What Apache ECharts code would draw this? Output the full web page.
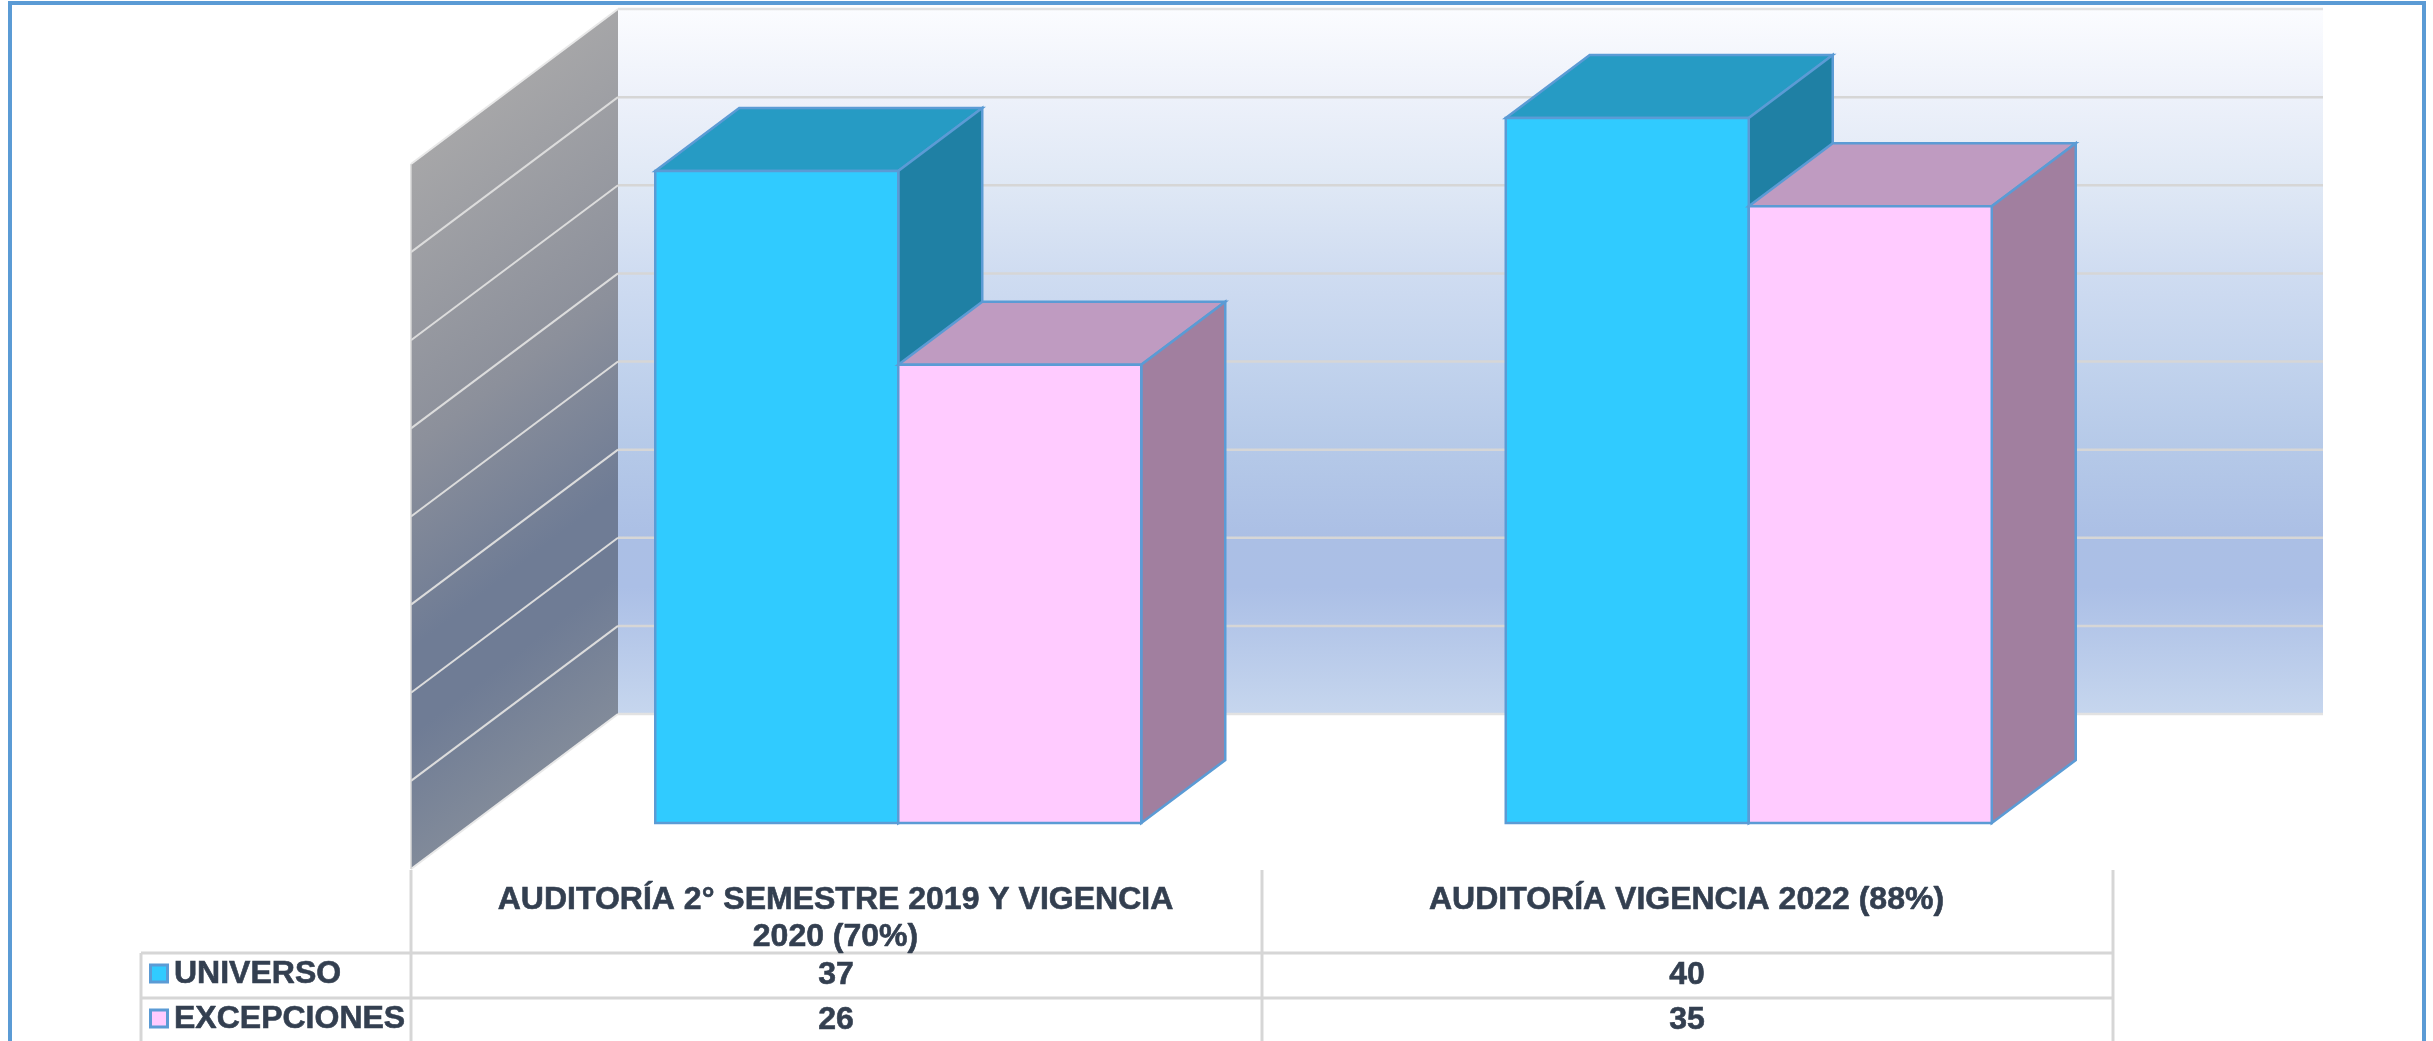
<!DOCTYPE html>
<html>
<head>
<meta charset="utf-8">
<style>html,body{margin:0;padding:0;background:#fff}#c{width:2433px;height:1041px}</style>
<script src="https://cdn.jsdelivr.net/npm/echarts@6/dist/echarts.min.js"></script>
</head>
<body>
<div id="c"></div>
<script>
const categories = ['AUDITORÍA 2° SEMESTRE 2019 Y VIGENCIA\n2020 (70%)', 'AUDITORÍA VIGENCIA 2022 (88%)'];
const universo = [37, 40];
const excepciones = [26, 35];
const gridTicks = [0, 5, 10, 15, 20, 25, 30, 35, 40];

const TEXT = '#333F50', EDGE = '#5B9BD5', LINE = '#D6D6D6';
const FONT = '"Liberation Sans", Arial, sans-serif';
const styles = [
  {name: 'UNIVERSO', front: '#30CBFF', top: '#269BC4', side: '#1F80A4'},
  {name: 'EXCEPCIONES', front: '#FFCBFF', top: '#BF9BC1', side: '#A17F9F'}
];
// depth projection, in px
const BAR_DX = 84, BAR_DY = 63, BACK_DX = 145, BACK_DY = 109, FRONT_DX = -62, FRONT_DY = 46;
const BAR_W = 243;

const chart = echarts.init(document.getElementById('c'));

function poly(points, fill, stroke, w) {
  return {type: 'polygon', shape: {points}, style: {fill, stroke: stroke || null, lineWidth: w || 0, lineJoin: 'miter'}};
}
function lin(x1, y1, x2, y2, color, w) {
  return {type: 'line', shape: {x1, y1, x2, y2}, style: {stroke: color, lineWidth: w, lineCap: 'butt'}};
}
function label(x, y, text, align, vAlign, extra) {
  return {type: 'text', style: Object.assign({x, y, text, fill: TEXT, stroke: TEXT, lineWidth: 0.6,
    font: 'bold 32px ' + FONT, textAlign: align, textVerticalAlign: vAlign}, extra || {})};
}

function renderWalls(params, api) {
  const cs = params.coordSys;
  const left = cs.x;
  const y0 = api.coord([0, 0])[1], yT = api.coord([0, 40])[1];
  const bx = left + BACK_DX, fx = left + FRONT_DX;
  const backW = 1705;
  const els = [];
  els.push({
    type: 'rect',
    shape: {x: bx, y: yT - BACK_DY, width: backW, height: y0 - yT},
    style: {fill: new echarts.graphic.LinearGradient(0, 0, 0, 1, [
      {offset: 0, color: '#FBFCFF'},
      {offset: 0.125, color: '#EDF1FA'},
      {offset: 0.25, color: '#DFE8F5'},
      {offset: 0.375, color: '#CFDCF1'},
      {offset: 0.5, color: '#C2D3ED'},
      {offset: 0.625, color: '#B5C9E8'},
      {offset: 0.75, color: '#ABBFE5'},
      {offset: 0.82, color: '#ABBFE6'},
      {offset: 1, color: '#C6D6EE'}
    ])}
  });
  els.push(poly([[fx, yT + FRONT_DY], [bx, yT - BACK_DY], [bx, y0 - BACK_DY], [fx, y0 + FRONT_DY]],
    new echarts.graphic.LinearGradient(411, 166, 755, 611, [
      {offset: 0, color: '#A6A6A8'},
      {offset: 0.4, color: '#8C909B'},
      {offset: 0.68, color: '#6F7C95'},
      {offset: 0.8, color: '#6F7C95'},
      {offset: 1, color: '#828B9A'}
    ], true)));
  gridTicks.forEach(t => {
    const y = api.coord([0, t])[1];
    els.push(lin(bx, y - BACK_DY, bx + backW, y - BACK_DY, t === 40 || t === 0 ? '#E2E2E2' : LINE, 2.5));
    els.push(lin(fx, y + FRONT_DY, bx, y - BACK_DY, t === 40 || t === 0 ? '#E8E8E8' : '#DCDCDC', 2));
  });
  els.push(lin(fx, yT + FRONT_DY, fx, y0 + FRONT_DY, LINE, 1.5));
  return {type: 'group', children: els};
}

function bar(s, offset) {
  return function (params, api) {
    const cat = api.value(0), v = api.value(1);
    const cx = api.coord([cat, 0])[0] + offset;
    const yb = api.coord([cat, 0])[1], yt = api.coord([cat, v])[1];
    const l = cx - BAR_W / 2, r = cx + BAR_W / 2;
    return {type: 'group', children: [
      poly([[l, yt], [l + BAR_DX, yt - BAR_DY], [r + BAR_DX, yt - BAR_DY], [r, yt]], s.top, EDGE, 2.5),
      poly([[r, yt], [r + BAR_DX, yt - BAR_DY], [r + BAR_DX, yb - BAR_DY], [r, yb]], s.side, EDGE, 2.5),
      poly([[l, yt], [r, yt], [r, yb], [l, yb]], s.front, EDGE, 2.5)
    ]};
  };
}

// table geometry
const T_TOP = 870, T_R1 = 953, T_R2 = 998, T_B = 1041, T_L = 141;

function renderTable(params, api) {
  const cs = params.coordSys;
  const l = cs.x, r = cs.x + cs.width, m = cs.x + cs.width / 2;
  const els = [
    lin(T_L, T_R1, r, T_R1, LINE, 3),
    lin(T_L, T_R2, r, T_R2, LINE, 3),
    lin(T_L, T_R1, T_L, T_B, LINE, 3),
    lin(l, T_TOP, l, T_B, LINE, 3),
    lin(m, T_TOP, m, T_B, LINE, 3),
    lin(r, T_TOP, r, T_B, LINE, 3)
  ];
  [[universo, T_R1], [excepciones, T_R2]].forEach((row, i) => {
    const y = row[1] + 21;
    els.push({type: 'rect', shape: {x: 150.5, y: y - 9, width: 17, height: 17}, style: {fill: styles[i].front, stroke: EDGE, lineWidth: 3}});
    els.push(label(174, y, styles[i].name, 'left', 'middle'));
    row[0].forEach((v, c) => {
      els.push(label(api.coord([c, 0])[0] - 0.5, y + 1, String(v), 'center', 'middle'));
    });
  });
  categories.forEach((c, i) => {
    els.push(label(api.coord([i, 0])[0] - 1, 882, c, 'center', 'top', {lineHeight: 37}));
  });
  return {type: 'group', children: els};
}

const catIdx = categories.map((_, i) => i);
chart.setOption({
  animation: false,
  backgroundColor: '#fff',
  grid: [
    {left: 473, width: 1701, top: 118, height: 705, containLabel: false},
    {left: 411, width: 1702, top: 870, height: 171, containLabel: false}
  ],
  xAxis: [
    {type: 'category', gridIndex: 0, data: categories, show: false},
    {type: 'category', gridIndex: 1, data: categories, show: false}
  ],
  yAxis: [
    {type: 'value', gridIndex: 0, min: 0, max: 40, interval: 5, show: false},
    {type: 'value', gridIndex: 1, min: 0, max: 1, show: false}
  ],
  graphic: [
    {type: 'rect', z: 100, shape: {x: 10, y: 3, width: 2414, height: 1060}, style: {fill: null, stroke: EDGE, lineWidth: 4}}
  ],
  series: [
    {type: 'custom', name: 'walls', xAxisIndex: 0, yAxisIndex: 0, z: 1, silent: true, renderItem: renderWalls, data: [[0, 0]], clip: false},
    {type: 'custom', name: styles[0].name, xAxisIndex: 0, yAxisIndex: 0, z: 2, renderItem: bar(styles[0], -BAR_W / 2), data: catIdx.map(i => [i, universo[i]]), clip: false},
    {type: 'custom', name: styles[1].name, xAxisIndex: 0, yAxisIndex: 0, z: 3, renderItem: bar(styles[1], BAR_W / 2), data: catIdx.map(i => [i, excepciones[i]]), clip: false},
    {type: 'custom', name: 'table', xAxisIndex: 1, yAxisIndex: 1, z: 4, silent: true, renderItem: renderTable, data: [[0, 0]], clip: false}
  ]
});
</script>
</body>
</html>
